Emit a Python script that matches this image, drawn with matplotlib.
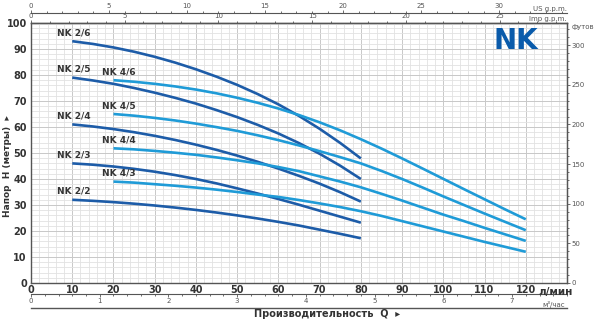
import numpy as np
import matplotlib.pyplot as plt
from matplotlib.ticker import MultipleLocator

# flow, l/min
q_small = [10, 15, 20, 25, 30, 35, 40, 45, 50, 55, 60, 65, 70, 75, 80]
q_big = [20, 25, 30, 35, 40, 45, 50, 55, 60, 65, 70, 75, 80, 85, 90, 95,
         100, 105, 110, 115, 120]

# head, m
nk2_6 = [93, 91.95, 90.6, 88.95, 87.0, 84.75, 82.2, 79.35, 76.2, 72.65, 68.7,
         64.25, 59.3, 53.85, 47.9]
nk2_5 = [79, 77.9, 76.6, 75.0, 73.2, 71.2, 69.0, 66.5, 63.8, 60.8, 57.5,
         53.8, 49.7, 45.1, 40.0]
nk2_4 = [61, 60.2, 59.2, 58.0, 56.6, 55.0, 53.2, 51.2, 49.0, 46.6, 44.0,
         41.2, 38.2, 34.9, 31.3]
nk2_3 = [46, 45.5, 44.8, 43.9, 42.8, 41.5, 40.0, 38.3, 36.4, 34.4, 32.3,
         30.1, 27.8, 25.5, 23.2]
nk2_2 = [32, 31.6, 31.1, 30.5, 29.8, 29.0, 28.1, 27.1, 26.0, 24.8, 23.5,
         22.1, 20.5, 18.9, 17.2]

nk4_6 = [78, 77.4, 76.6, 75.6, 74.4, 72.95, 71.25, 69.3, 67.1, 64.6, 61.8,
         58.7, 55.3, 51.7, 47.9, 44.0, 40.05, 36.1, 32.2, 28.3, 24.5]
nk4_5 = [65, 64.35, 63.5, 62.5, 61.3, 59.95, 58.5, 56.8, 54.95, 52.9, 50.7,
         48.4, 46.0, 43.1, 40.0, 36.7, 33.3, 30.0, 26.7, 23.5, 20.3]
nk4_4 = [51.8, 51.4, 50.8, 50.1, 49.3, 48.3, 47.2, 46.0, 44.6, 43.0, 41.0,
         39.0, 36.8, 34.3, 31.7, 29.0, 26.3, 23.8, 21.2, 18.7, 16.2]
nk4_3 = [39, 38.6, 38.0, 37.4, 36.7, 35.9, 35.0, 34.0, 33.1, 31.9, 30.6,
         29.2, 27.6, 25.8, 23.8, 21.8, 19.8, 17.8, 15.8, 13.9, 12.0]

small_curves = {'NK 2/6': nk2_6, 'NK 2/5': nk2_5, 'NK 2/4': nk2_4,
                'NK 2/3': nk2_3, 'NK 2/2': nk2_2}
big_curves = {'NK 4/6': nk4_6, 'NK 4/5': nk4_5, 'NK 4/4': nk4_4,
              'NK 4/3': nk4_3}

DARK = '#1d5ca8'
LIGHT = '#1f9bd7'
AXC = '#555555'
TXT = '#333333'
SMALL = '#555555'

fig = plt.figure(figsize=(6.0, 3.19), dpi=100)
ax = fig.add_axes([0.0517, 0.1129, 0.8933, 0.815])

for name, h in small_curves.items():
    ax.plot(q_small, h, color=DARK, lw=1.9, solid_capstyle='butt')
    ax.text(q_small[0] - 3.7, h[0] + 1.5, name, fontsize=6.5, fontweight='bold',
            color=TXT, va='bottom', ha='left')
for name, h in big_curves.items():
    ax.plot(q_big, h, color=LIGHT, lw=1.9, solid_capstyle='butt')
    ax.text(q_big[0] - 2.8, h[0] + 1.5, name, fontsize=6.5, fontweight='bold',
            color=TXT, va='bottom', ha='left')

ax.set_xlim(0, 130)
ax.set_ylim(0, 100)
ax.set_xticks(range(0, 121, 10))
ax.set_yticks(range(0, 101, 10))
ax.xaxis.set_minor_locator(MultipleLocator(2))
ax.yaxis.set_minor_locator(MultipleLocator(2))
ax.grid(which='major', color='#c8c8c8', lw=0.7)
ax.grid(which='minor', color='#e2e2e2', lw=0.6)
ax.set_axisbelow(True)
ax.tick_params(which='both', length=0)
ax.tick_params(axis='x', pad=1.5, labelsize=7, labelcolor=TXT)
ax.tick_params(axis='y', pad=3, labelsize=7, labelcolor=TXT)
for lab in ax.get_xticklabels() + ax.get_yticklabels():
    lab.set_fontweight('bold')
for s in ax.spines.values():
    s.set_color(AXC)
    s.set_linewidth(1.0)

def small_axis(sec, major, minor, spine):
    sec.set_xticks(major) if spine in ('top', 'bottom') else sec.set_yticks(major)
    if spine in ('top', 'bottom'):
        sec.xaxis.set_minor_locator(MultipleLocator(minor))
    else:
        sec.yaxis.set_minor_locator(MultipleLocator(minor))
    sec.tick_params(which='major', length=2.5, width=0.6, color=AXC,
                    labelsize=5, labelcolor=SMALL, pad=0.5)
    sec.tick_params(which='minor', length=1.5, width=0.6, color=AXC)
    sec.spines[spine].set_color(AXC)
    sec.spines[spine].set_linewidth(0.8)

# top: Imp g.p.m. and US g.p.m.
imp = ax.secondary_xaxis('top', functions=(lambda x: x / 4.54609, lambda x: x * 4.54609))
small_axis(imp, range(0, 30, 5), 1, 'top')
imp.spines['top'].set_linewidth(1.0)

us = ax.secondary_xaxis(1.0385, functions=(lambda x: x / 3.78541, lambda x: x * 3.78541))
small_axis(us, range(0, 35, 5), 1, 'top')

ax.text(1.0, 1.041, 'US g.p.m.', transform=ax.transAxes, fontsize=5,
        color=SMALL, ha='right', va='bottom')
ax.text(1.0, 1.003, 'Imp g.p.m.', transform=ax.transAxes, fontsize=5,
        color=SMALL, ha='right', va='bottom')

# bottom: m3/h
m3h = ax.secondary_xaxis(-0.042, functions=(lambda x: x * 0.06, lambda x: x / 0.06))
small_axis(m3h, range(0, 8), 0.2, 'bottom')

ax.text(123, -1.5, 'л/мин', fontsize=7.5, fontweight='bold', color=TXT,
        ha='left', va='top')
ax.text(124, -6.8, 'м³/час', fontsize=5, color=SMALL, ha='left', va='top')

# right: feet
ft = ax.secondary_yaxis('right', functions=(lambda h: h / 0.3048, lambda f: f * 0.3048))
small_axis(ft, range(0, 301, 50), 10, 'right')
ax.text(1.008, 0.985, 'футов', transform=ax.transAxes, fontsize=5,
        color=SMALL, ha='left', va='center')

# logo
ax.text(117.5, 93, 'NK', fontsize=20, fontweight='heavy', color='#0a5bab',
        ha='center', va='center')

# axis titles
ax.set_ylabel('Напор  H (метры)  ▸', fontsize=6.5, fontweight='bold', color=TXT)
ax.yaxis.set_label_coords(-0.036, 0.45)
fig.add_artist(plt.Line2D([0.0517, 0.945], [0.033, 0.033], color=AXC, lw=1.0))
fig.text(0.545, 0.016, 'Производительность  Q  ▸', fontsize=7, fontweight='bold',
         color=TXT, ha='center', va='center')

fig.savefig('out.png', dpi=100)
